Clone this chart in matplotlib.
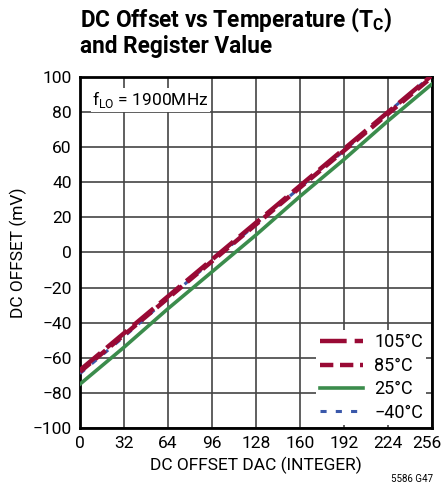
import matplotlib
matplotlib.use("Agg")
import matplotlib.pyplot as plt
import matplotlib.transforms as mtransforms

# ---------------- DATA ----------------
dac = [0, 32, 64, 96, 128, 160, 192, 224, 256]
off_105 = [-67, -46, -25, -4, 17, 38, 59, 80, 101]
off_85 = [-68, -47, -26, -5, 16, 37, 58, 79, 100]
off_25 = [-75, -54, -32, -11, 10, 32, 53, 75, 96]
off_m40 = [-69, -48, -26, -5, 16, 37, 58, 80, 101]

x_ticks = [0, 32, 64, 96, 128, 160, 192, 224, 256]
y_ticks = [-100, -80, -60, -40, -20, 0, 20, 40, 60, 80, 100]

RED = "#990a35"
GREEN = "#3b8c4c"
BLUE = "#3a58aa"

plt.rcParams['font.family'] = ['Roboto', 'DejaVu Sans']

fig = plt.figure(figsize=(4.45, 4.94), dpi=100)
ax = fig.add_axes([80 / 445, 1 - 428 / 494, 352 / 445, 351 / 494])

ax.plot(dac, off_25, color=GREEN, lw=2.6, label='25°C', zorder=3)
ax.plot(dac, off_m40, color=BLUE, lw=2.2, ls=(0, (2, 3)), label='\u221240°C', zorder=4)
ax.plot(dac, off_85, color=RED, lw=3.2, ls=(0, (3, 1.5)), label='85°C', zorder=5)
ax.plot(dac, off_105, color=RED, lw=3.2, ls=(0, (6, 1.8)), label='105°C', zorder=6)

ax.set_xlim(0, 256)
ax.set_ylim(-100, 100)
ax.set_xticks(x_ticks)
ax.set_yticks(y_ticks)
ax.tick_params(length=0, labelsize=12.5, pad=6)
ax.grid(True, color='#444444', lw=1.2)
ax.set_axisbelow(True)
for s in ax.spines.values():
    s.set_linewidth(2)

# pull the last x label in a bit so it stays on the canvas
last = ax.get_xticklabels()[-1]
last.set_transform(last.get_transform() +
                   mtransforms.ScaledTranslation(-5 / 100, 0, fig.dpi_scale_trans))

ax.set_xlabel('DC OFFSET DAC (INTEGER)', fontsize=12.5, labelpad=4)
ax.set_ylabel('DC OFFSET (mV)', fontsize=12.5, labelpad=4)

# legend in the order shown
h, l = ax.get_legend_handles_labels()
order = [3, 2, 0, 1]
leg = ax.legend([h[i] for i in order], [l[i] for i in order], loc='lower right',
                fontsize=13, frameon=True, fancybox=False, borderpad=0.2,
                handlelength=2.4, handletextpad=0.6, labelspacing=0.3,
                bbox_to_anchor=(1.01, -0.018))
leg.get_frame().set_edgecolor('none')
leg.get_frame().set_facecolor('white')
leg.get_frame().set_alpha(1)

ax.text(0.035, 0.965, r'f$_\mathregular{LO}$ = 1900MHz', transform=ax.transAxes,
        fontsize=12.5, va='top', ha='left',
        bbox=dict(facecolor='white', edgecolor='none', pad=1))

fig.text(80 / 445, 1 - 5 / 494,
         'DC Offset vs Temperature (T$_\\mathregular{C}$)\nand Register Value',
         fontsize=16.3, fontweight='bold', va='top', ha='left', linespacing=1.05)

fig.text(433 / 445, 1 - 484 / 494, '5586 G47', fontsize=7, ha='right', va='bottom')

fig.savefig('out.png', dpi=100)
